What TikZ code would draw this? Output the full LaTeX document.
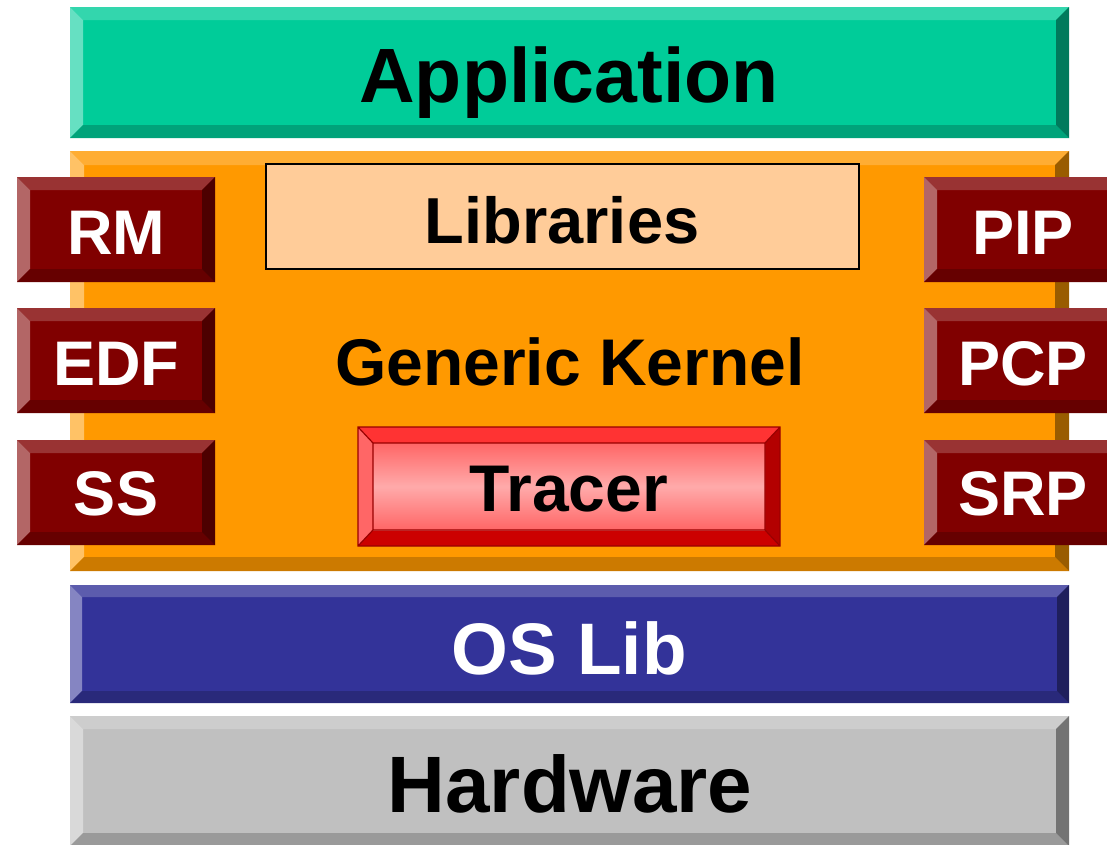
\documentclass[tikz,border=0pt]{standalone}
\usepackage{fontspec}
\setmainfont{Liberation Sans}
\definecolor{appM}{HTML}{00CC99}\definecolor{appT}{HTML}{33D6AD}\definecolor{appL}{HTML}{66E0C2}\definecolor{appB}{HTML}{00A37A}\definecolor{appR}{HTML}{007A5C}
\definecolor{orM}{HTML}{FF9900}\definecolor{orT}{HTML}{FFAD33}\definecolor{orL}{HTML}{FFC266}\definecolor{orB}{HTML}{CC7A00}\definecolor{orR}{HTML}{995C00}
\definecolor{drM}{HTML}{800000}\definecolor{drT}{HTML}{993333}\definecolor{drL}{HTML}{B36666}\definecolor{drB}{HTML}{660000}\definecolor{drR}{HTML}{4D0000}
\definecolor{blM}{HTML}{333399}\definecolor{blT}{HTML}{5C5CAD}\definecolor{blL}{HTML}{8585C2}\definecolor{blB}{HTML}{29297A}\definecolor{blR}{HTML}{1F1F5C}
\definecolor{grM}{HTML}{C0C0C0}\definecolor{grT}{HTML}{CDCDCD}\definecolor{grL}{HTML}{D9D9D9}\definecolor{grB}{HTML}{9A9A9A}\definecolor{grR}{HTML}{737373}
\definecolor{trT}{HTML}{FF3333}\definecolor{trL}{HTML}{FF6666}\definecolor{trB}{HTML}{CC0000}\definecolor{trR}{HTML}{B30000}
\definecolor{trEdge}{HTML}{990000}\definecolor{trIn}{HTML}{FF6666}\definecolor{trMid}{HTML}{FFAAAA}
\definecolor{libFill}{HTML}{FFCC99}
\newcommand\bevelbox[6]{%
  \fill[#6M] (#1,#2) rectangle (#3,#4);
  \fill[#6T] (#1,#2) -- (#3,#2) -- ({#3-#5},{#2+#5}) -- ({#1+#5},{#2+#5}) -- cycle;
  \fill[#6L] (#1,#2) -- ({#1+#5},{#2+#5}) -- ({#1+#5},{#4-#5}) -- (#1,#4) -- cycle;
  \fill[#6B] (#1,#4) -- ({#1+#5},{#4-#5}) -- ({#3-#5},{#4-#5}) -- (#3,#4) -- cycle;
  \fill[#6R] (#3,#2) -- (#3,#4) -- ({#3-#5},{#4-#5}) -- ({#3-#5},{#2+#5}) -- cycle;
}
\tikzset{
  lbl/.style={inner sep=0pt, anchor=base},
  sidelbl/.style={lbl, white, font=\fontsize{63}{63}\bfseries},
}
\begin{document}
\begin{tikzpicture}[x=1pt,y=-1pt]
\useasboundingbox (0,0) rectangle (1107,844);
\clip (0,0) rectangle (1107,844);
% Application
\bevelbox{70}{7}{1069}{138}{13}{app}
\node[lbl, font=\fontsize{77}{77}\bfseries] (app) at (569,102) {Application};
% Kernel
\bevelbox{70}{151}{1069}{571}{14}{or}
\fill[libFill, draw=black, line width=1.5pt] (266,164) rectangle (859,269);
\node[lbl, font=\fontsize{65}{65}\bfseries] (lib) at (562,243) {Libraries};
\node[lbl, font=\fontsize{66}{66}\bfseries] (gk) at (570,385) {Generic Kernel};
% Tracer
\fill[trT] (358,427) -- (780,427) -- (765,443) -- (373,443) -- cycle;
\fill[trL] (358,427) -- (373,443) -- (373,530) -- (358,546) -- cycle;
\fill[trB] (358,546) -- (373,530) -- (765,530) -- (780,546) -- cycle;
\fill[trR] (780,427) -- (780,546) -- (765,530) -- (765,443) -- cycle;
\shade[top color=trIn, bottom color=trIn, middle color=trMid] (373,443) rectangle (765,530);
\draw[trEdge, line width=1.2pt] (358,427) rectangle (780,546) (373,443) rectangle (765,530)
  (358,427) -- (373,443) (780,427) -- (765,443) (358,546) -- (373,530) (780,546) -- (765,530);
\node[lbl, font=\fontsize{66}{66}\bfseries] (tr) at (569,511) {Tracer};
% side boxes
\bevelbox{17}{177}{215}{282}{13}{dr}
\bevelbox{17}{308}{215}{413}{13}{dr}
\bevelbox{17}{440}{215}{545}{13}{dr}
\bevelbox{924}{177}{1122}{282}{13}{dr}
\bevelbox{924}{308}{1122}{413}{13}{dr}
\bevelbox{924}{440}{1122}{545}{13}{dr}
\node[sidelbl] (rm) at (116,254) {RM};
\node[sidelbl] (edf) at (116,385) {EDF};
\node[sidelbl] (ss) at (116,515) {SS};
\node[sidelbl] (pip) at (1023,254) {PIP};
\node[sidelbl] (pcp) at (1023,385) {PCP};
\node[sidelbl] (srp) at (1023,515) {SRP};
% OS Lib
\bevelbox{70}{585}{1069}{703}{12}{bl}
\node[lbl, white, font=\fontsize{73}{73}\bfseries] (os) at (569,674) {OS Lib};
% Hardware
\bevelbox{70}{716}{1069}{846}{13}{gr}
\node[lbl, font=\fontsize{80}{80}\bfseries] (hw) at (570,812) {Hardware};
\end{tikzpicture}
\end{document}
